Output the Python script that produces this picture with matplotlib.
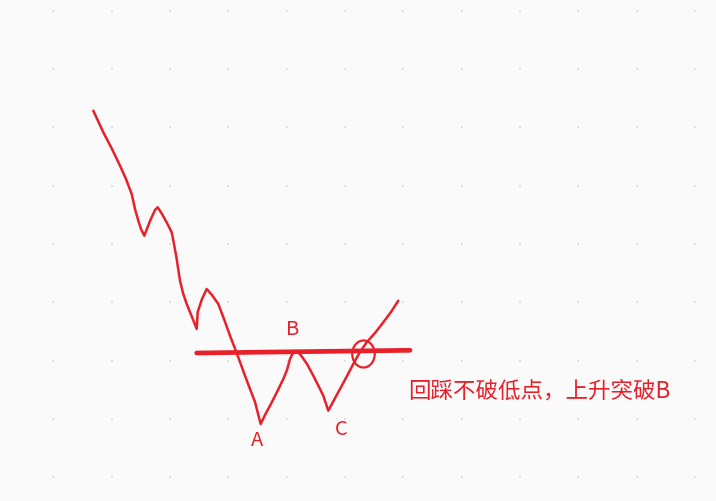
import numpy as np
import matplotlib.pyplot as plt
from matplotlib.patches import Ellipse

plt.rcParams['font.family'] = ['Noto Sans CJK SC', 'DejaVu Sans']

# hand-drawn price path (canvas pixel coordinates, y downwards)
path_x = [93.3, 103.3, 112, 120, 126, 131.7, 135, 138.3, 141, 144.3, 150, 155, 157.7,
          162, 167, 171.7, 174, 176.7, 178.5, 180, 183, 186.7, 192, 196.7, 197.7,
          202, 206.7, 212, 218.3, 224, 230, 234, 238.3, 244, 250, 255, 260.7,
          265, 270, 277, 283.3, 287, 290, 293.3, 297, 300, 307, 313.3, 318, 323.3,
          328.3, 334, 340, 347, 353.3, 360, 366.7, 375, 383.3, 391, 398.3]
path_y = [111.7, 133.3, 150, 166.7, 180, 195, 210, 221.7, 230, 236.7, 222, 211, 208.3,
          215, 224, 233.3, 245, 260, 272, 281.7, 294, 305, 318, 330, 313,
          300, 290, 296, 305, 320, 336.7, 347, 358.3, 374, 390, 403, 425,
          416, 406.7, 393, 380, 371, 360, 353.3, 353, 355, 365, 376.7, 386, 396.7,
          411.7, 401, 390, 377, 365, 353, 343.3, 334, 323.3, 313, 301.7]

# breakout level drawn across the B peak
level_x = [196.7, 410]
level_y = [354, 351.3]

point_labels = ['A', 'B', 'C']
label_x = [257, 293, 341]
label_y = [441, 330, 430]
note = '回踩不破低点，上升突破B'

red = '#e8202a'

fig = plt.figure(figsize=(7.16, 5.02), dpi=100, facecolor='#fafafa')
ax = fig.add_axes([0, 0, 1, 1])
ax.set_facecolor('#fafafa')
ax.set_xlim(0, 716)
ax.set_ylim(502, 0)
ax.axis('off')

# dotted background grid
gx, gy = np.meshgrid(np.arange(53.3, 716, 58.33), np.arange(11.7, 502, 58.33))
ax.scatter(gx.ravel(), gy.ravel(), s=3, marker='s', color='#e2e2e2', linewidths=0, zorder=1)

ax.plot(path_x, path_y, color=red, lw=1.8, solid_capstyle='round', solid_joinstyle='round', zorder=3)
ax.plot(level_x, level_y, color=red, lw=3.4, solid_capstyle='round', zorder=3)
ax.add_patch(Ellipse((363.5, 355), 22.5, 27, fill=False, edgecolor=red, lw=1.6, zorder=4))

for t, x, y in zip(point_labels, label_x, label_y):
    ax.text(x, y, t, color=red, fontsize=14.5, ha='center', va='center', zorder=5)

ax.text(408, 391, note, color=red, fontsize=16.2, ha='left', va='center', zorder=5)

fig.savefig('out.png', dpi=100, facecolor=fig.get_facecolor())
